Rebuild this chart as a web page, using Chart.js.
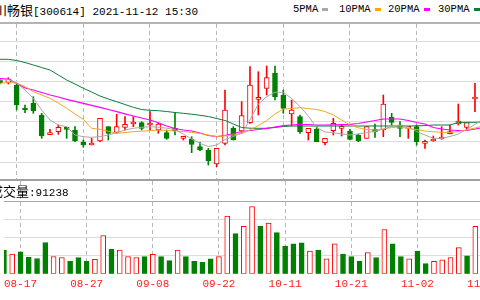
<!DOCTYPE html>
<html>
<head>
<meta charset="utf-8">
<script src="https://cdn.jsdelivr.net/npm/chart.js@4/dist/chart.umd.min.js"></script>
<style>
	body { margin: 0; background: #fff; }
	#wrap { position: relative; width: 480px; height: 300px; overflow: hidden; background: #fff; }
	#wrap canvas { position: absolute; left: 0; }
	.rule { position: absolute; left: 0; width: 100%; }
	.cn { font-family: "Noto Sans CJK SC", sans-serif; font-size: 13px; }
	.mono { font-family: "Liberation Mono", monospace; font-size: 11px; }
	#title { position: absolute; left: -19px; top: 1px; white-space: nowrap; color: #000; line-height: 17px; }
	#volTitle { position: absolute; left: -10px; top: 182px; white-space: nowrap; color: #000; line-height: 17px; background: transparent; }
	.lg { position: absolute; top: 2px; white-space: nowrap; font-family: "Liberation Mono", monospace; font-size: 10.5px; line-height: 15px; color: #000; }
	.lg i { display: inline-block; width: 6px; height: 3px; margin-left: 4px; vertical-align: middle; }
</style>
</head>
<body>
<div id="wrap">
	<div id="title"><span class="cn">百川畅银</span><span class="mono">[300614] 2021-11-12 15:30</span></div>
	<div class="lg" style="left:293px">5PMA<i style="background:#a8a8a8"></i></div>
	<div class="lg" style="left:339px">10PMA<i style="background:#ffa500"></i></div>
	<div class="lg" style="left:388px">20PMA<i style="background:#ff00ff"></i></div>
	<div class="lg" style="left:438px">30PMA<i style="background:#0a7d3b"></i></div>
	<div class="rule" style="top:22px;height:2px;background:#b4b4b4"></div>
	<canvas id="kline" width="520" height="155" style="top:24px"></canvas>
	<div class="rule" style="top:179px;height:2px;background:#a0a0a0"></div>
	<canvas id="vol" width="520" height="119" style="top:181px"></canvas>
	<div id="volTitle"><span class="cn">成交量</span><span class="mono">:91238</span></div>
</div>
<script>
const dates = ['08-13','08-16','08-17','08-18','08-19','08-20','08-23','08-24','08-25','08-26',
	'08-27','08-30','08-31','09-01','09-02','09-03','09-06','09-07','09-08','09-09',
	'09-10','09-13','09-14','09-15','09-16','09-17','09-22','09-23','09-24','09-27',
	'09-28','09-29','09-30','10-08','10-11','10-12','10-13','10-14','10-15','10-18',
	'10-19','10-20','10-21','10-22','10-25','10-26','10-27','10-28','10-29','11-01',
	'11-02','11-03','11-04','11-05','11-08','11-09','11-10','11-11','11-12'];

const axisDates = ['08-17','08-27','09-08','09-22','10-11','10-21','11-02','11-12'];

const open = [36.20,35.97,35.70,33.37,33.87,32.70,30.73,31.03,31.47,31.20,
	30.00,29.70,30.10,31.53,30.97,31.47,31.80,31.93,31.70,31.20,
	30.93,31.37,30.37,30.30,29.53,29.20,27.80,29.87,31.37,31.10,
	31.93,34.27,35.37,36.87,34.70,32.80,32.53,30.93,31.30,29.93,
	31.13,31.37,31.10,30.70,30.37,31.30,31.20,32.47,31.70,31.37,
	31.53,29.87,30.10,30.30,30.83,31.80,31.47,34.30,34.40];
const high = [36.30,36.43,35.87,33.70,34.53,32.87,31.27,31.70,31.50,31.53,
	30.20,30.37,32.37,31.53,32.77,32.53,32.53,32.03,33.03,31.90,
	31.20,32.93,30.53,30.53,29.97,29.37,29.37,35.20,31.53,34.03,
	37.53,37.03,37.60,37.60,35.20,34.20,32.70,31.37,31.53,30.37,
	32.37,31.70,31.27,30.80,31.53,31.80,34.70,32.87,32.03,31.47,
	31.70,30.20,30.60,31.53,31.70,33.80,31.93,35.87,35.50];
const low = [35.80,35.80,33.20,32.93,32.87,30.37,30.73,30.77,30.37,30.03,
	29.47,29.70,30.03,30.20,30.87,31.20,31.53,31.20,31.20,30.87,
	30.27,30.70,30.20,28.93,29.13,27.70,27.53,29.70,30.20,30.87,
	31.87,32.70,34.70,34.20,32.87,31.60,30.87,30.20,30.03,29.70,
	30.70,30.60,30.20,30.03,30.37,30.47,30.53,31.70,30.53,30.37,
	29.70,29.37,30.07,30.27,30.80,31.70,31.13,33.03,33.90];
const close = [35.90,36.27,33.70,33.20,33.10,30.60,30.80,31.47,31.27,30.10,
	29.70,29.77,32.37,30.87,31.53,31.77,31.97,31.37,31.90,31.80,
	30.37,31.13,30.43,29.77,29.20,28.13,29.37,33.20,30.20,32.63,
	35.70,34.43,36.43,34.53,33.37,33.20,31.03,31.37,30.03,30.37,
	31.87,31.43,30.27,30.10,31.53,31.03,33.80,31.97,31.37,31.43,
	30.03,29.93,30.20,30.40,30.90,32.10,31.93,34.43,34.90];

const ma5 = [36.20,36.25,35.90,35.20,34.37,33.20,32.20,31.70,31.53,30.70,
	30.53,30.47,30.53,30.70,30.93,31.20,31.37,31.47,31.53,31.48,
	31.38,31.23,30.80,30.30,29.87,29.55,29.70,30.25,30.55,30.90,
	32.20,33.80,34.53,34.98,34.97,34.35,33.55,32.60,31.45,31.00,
	30.93,30.80,30.70,30.80,30.95,31.05,31.30,31.55,31.65,31.50,
	31.05,30.70,30.37,30.37,30.55,30.80,31.25,31.75,32.30];
const ma10 = [35.87,35.95,35.90,35.55,35.03,34.70,34.37,33.90,33.37,32.80,
	32.27,31.37,31.27,31.07,30.87,30.95,31.03,31.08,31.13,31.20,
	31.15,31.10,31.05,30.97,30.85,30.70,30.53,30.62,30.70,30.85,
	31.20,31.65,32.13,32.80,33.30,33.35,33.43,33.35,33.25,33.05,
	32.70,32.20,31.70,31.42,31.25,31.20,31.30,31.45,31.50,31.35,
	31.25,31.10,31.02,30.97,30.95,31.05,31.20,31.40,31.60];
const ma20 = [36.35,36.30,35.85,35.40,35.20,34.95,34.70,34.50,34.27,34.07,
	33.87,33.67,33.47,33.25,33.03,32.82,32.60,32.40,32.20,31.93,
	31.60,31.35,31.20,31.10,30.90,30.65,30.53,30.65,30.85,31.05,
	31.15,31.25,31.37,31.50,31.63,31.70,31.77,31.75,31.70,31.70,
	31.72,31.75,31.77,31.85,32.00,32.15,32.30,32.30,32.30,32.15,
	31.95,31.80,31.45,31.30,31.20,31.15,31.15,31.30,31.45];
const ma30 = [38.27,38.27,38.15,37.95,37.70,37.45,37.20,36.70,36.20,35.80,
	35.37,35.00,34.60,34.30,34.03,33.75,33.47,33.25,33.17,33.13,
	33.05,32.95,32.87,32.78,32.67,32.55,32.35,32.15,31.80,31.45,
	31.38,31.37,31.37,31.45,31.55,31.60,31.60,31.60,31.60,31.60,
	31.60,31.60,31.60,31.60,31.60,31.60,31.60,31.60,31.60,31.60,
	31.62,31.64,31.70,31.70,31.70,31.95,31.97,31.97,32.00];

// 成交量(手), and whether the bar is drawn red (price up on the day)
const volume = [49400,41400,46000,34600,32000,65400,36000,34000,26000,34000,
	26000,30000,80000,51400,49400,36000,34000,36000,40600,36000,
	27400,49400,36000,26000,24000,31400,36000,120600,84000,99400,
	140600,99400,106000,86000,58000,62600,64600,47400,49400,31400,
	62600,41400,36000,26000,44600,34000,92600,62600,36000,31400,
	47400,21400,26000,29400,34000,54600,37400,99400,91238];
const volUp = [0,1,0,0,0,0,1,1,0,0,
	0,1,1,0,1,1,1,0,1,0,
	0,1,0,0,0,0,1,1,0,1,
	1,0,1,0,0,0,0,1,0,1,
	1,0,0,0,1,0,1,0,0,1,
	0,0,1,1,1,1,0,1,1];

const priceGrid = [28, 30, 32, 34, 36, 38, 40];
const volGrid = [38000, 76000, 114000, 152000];

const RED = '#ff0000';
const GREEN = '#008000';
const STEP = 8.333;              // px per trading day
const XMAX = 520 / STEP;
const tickIdx = axisDates.map(d => dates.indexOf(d));

const isUp = i => close[i] >= open[i];

function xAxis(showLabels) {
	return {
		type: 'linear',
		min: 0,
		max: XMAX,
		offset: false,
		afterBuildTicks: ax => { ax.ticks = tickIdx.map(v => ({value: v})); },
		ticks: {
			display: showLabels,
			autoSkip: false,
			maxRotation: 0,
			padding: 4,
			color: '#ff2020',
			font: {family: '"Liberation Mono", monospace', size: 11},
			callback: v => dates[v],
		},
		grid: {offset: false, color: '#b8b8b8', drawTicks: false, lineWidth: 1},
		border: {display: false, dash: [4, 3]},
	};
}

const baseOpts = {
	responsive: false,
	animation: false,
	events: [],
	plugins: {legend: {display: false}, tooltip: {enabled: false}},
};

new Chart(document.getElementById('kline'), {
	type: 'bar',
	data: {
		datasets: [
			{
				type: 'line', data: ma5.map((v, i) => ({x: i, y: v})),
				borderColor: '#a8a8a8', borderWidth: 1, pointRadius: 0, order: 0,
			},
			{
				type: 'line', data: ma10.map((v, i) => ({x: i, y: v})),
				borderColor: '#f5a623', borderWidth: 1, pointRadius: 0, order: 0,
			},
			{
				type: 'line', data: ma20.map((v, i) => ({x: i, y: v})),
				borderColor: '#ff00ff', borderWidth: 1.2, pointRadius: 0, order: 0,
			},
			{
				type: 'line', data: ma30.map((v, i) => ({x: i, y: v})),
				borderColor: '#0a7d3b', borderWidth: 1, pointRadius: 0, order: 0,
			},
			{
				// bodies
				data: dates.map((d, i) => ({x: i, y: [open[i], close[i]]})),
				backgroundColor: dates.map((d, i) => isUp(i) ? '#ffffff' : GREEN),
				borderColor: dates.map((d, i) => isUp(i) ? RED : GREEN),
				borderWidth: 1,
				borderSkipped: false,
				barThickness: 5,
				minBarLength: 2,
				grouped: false,
				order: 1,
			},
			{
				// wicks
				data: dates.map((d, i) => ({x: i, y: [low[i], high[i]]})),
				backgroundColor: dates.map((d, i) => isUp(i) ? RED : GREEN),
				borderWidth: 0,
				barThickness: 1,
				grouped: false,
				order: 2,
			},
		],
	},
	options: {
		...baseOpts,
		scales: {
			x: xAxis(false),
			y: {
				min: 26.3,
				max: 41.8,
				afterBuildTicks: ax => { ax.ticks = priceGrid.map(v => ({value: v})); },
				ticks: {display: false},
				grid: {color: '#dcdcdc', drawTicks: false},
				border: {display: false},
			},
		},
	},
});

new Chart(document.getElementById('vol'), {
	type: 'bar',
	data: {
		datasets: [{
			data: volume.map((v, i) => ({x: i, y: v})),
			backgroundColor: volUp.map(u => u ? '#ffffff' : GREEN),
			borderColor: volUp.map(u => u ? RED : GREEN),
			borderWidth: 1,
			borderSkipped: false,
			barThickness: 5,
			grouped: false,
		}],
	},
	options: {
		...baseOpts,
		layout: {padding: {bottom: 5}},
		scales: {
			x: xAxis(true),
			y: {
				min: 0,
				max: 194000,
				afterBuildTicks: ax => { ax.ticks = volGrid.map(v => ({value: v})); },
				ticks: {display: false},
				grid: {color: ctx => ctx.tick && ctx.tick.value === 152000 ? '#a8a8a8' : '#dcdcdc', drawTicks: false},
				border: {display: false},
			},
		},
	},
});
</script>
</body>
</html>
